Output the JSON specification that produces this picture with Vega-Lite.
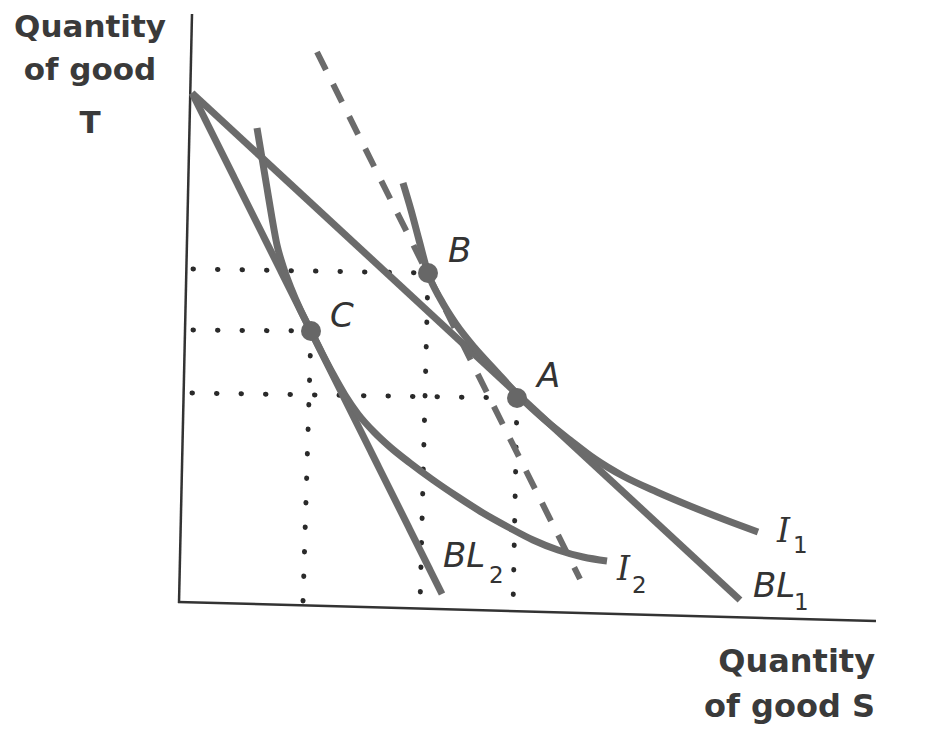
{
  "$schema": "https://vega.github.io/schema/vega-lite/v6.json",
  "width": 950,
  "height": 749,
  "autosize": {"type": "none"},
  "padding": 0,
  "background": "white",
  "config": {"view": {"stroke": null}},
  "datasets": {
    "lines": [
      {"id": "yaxis", "kind": "axis", "ord": 1, "S": 1.2, "T": 59.1},
      {"id": "yaxis", "kind": "axis", "ord": 2, "S": -0.1, "T": 0.2},
      {"id": "xaxis", "kind": "axis", "ord": 1, "S": -0.2, "T": 0.3},
      {"id": "xaxis", "kind": "axis", "ord": 2, "S": 69.6, "T": -1.6},

      {"id": "dB_h", "kind": "dotted", "ord": 1, "S": 1.3, "T": 33.6},
      {"id": "dB_h", "kind": "dotted", "ord": 2, "S": 24.8, "T": 33.2},
      {"id": "dC_h", "kind": "dotted", "ord": 1, "S": 1.3, "T": 27.5},
      {"id": "dC_h", "kind": "dotted", "ord": 2, "S": 13.1, "T": 27.4},
      {"id": "dA_h", "kind": "dotted", "ord": 1, "S": 1.2, "T": 21.2},
      {"id": "dA_h", "kind": "dotted", "ord": 2, "S": 33.7, "T": 20.7},
      {"id": "dC_v", "kind": "dotted", "ord": 1, "S": 13.1, "T": 27.4},
      {"id": "dC_v", "kind": "dotted", "ord": 2, "S": 12.3, "T": 0.3},
      {"id": "dB_v", "kind": "dotted", "ord": 1, "S": 24.8, "T": 33.2},
      {"id": "dB_v", "kind": "dotted", "ord": 2, "S": 24.0, "T": -0.1},
      {"id": "dA_v", "kind": "dotted", "ord": 1, "S": 33.7, "T": 20.7},
      {"id": "dA_v", "kind": "dotted", "ord": 2, "S": 33.3, "T": -0.5},

      {"id": "dash", "kind": "dashed", "ord": 1, "S": 13.7, "T": 55.3},
      {"id": "dash", "kind": "dashed", "ord": 2, "S": 40.0, "T": 2.6},

      {"id": "BL1", "kind": "straight", "ord": 1, "S": 1.2, "T": 51.2},
      {"id": "BL1", "kind": "straight", "ord": 2, "S": 56.0, "T": 0.5},
      {"id": "BL2", "kind": "straight", "ord": 1, "S": 1.2, "T": 51.2},
      {"id": "BL2", "kind": "straight", "ord": 2, "S": 26.2, "T": 1.1},

      {"id": "I1", "kind": "curve", "ord": 1, "S": 22.3, "T": 42.2},
      {"id": "I1", "kind": "curve", "ord": 2, "S": 23.1, "T": 39.5},
      {"id": "I1", "kind": "curve", "ord": 3, "S": 23.9, "T": 36.5},
      {"id": "I1", "kind": "curve", "ord": 4, "S": 24.8, "T": 33.2},
      {"id": "I1", "kind": "curve", "ord": 5, "S": 26.1, "T": 30.5},
      {"id": "I1", "kind": "curve", "ord": 6, "S": 27.6, "T": 28.1},
      {"id": "I1", "kind": "curve", "ord": 7, "S": 29.4, "T": 25.8},
      {"id": "I1", "kind": "curve", "ord": 8, "S": 31.5, "T": 23.5},
      {"id": "I1", "kind": "curve", "ord": 9, "S": 33.8, "T": 21.0},
      {"id": "I1", "kind": "curve", "ord": 10, "S": 36.5, "T": 18.5},
      {"id": "I1", "kind": "curve", "ord": 11, "S": 39.0, "T": 16.5},
      {"id": "I1", "kind": "curve", "ord": 12, "S": 41.5, "T": 14.6},
      {"id": "I1", "kind": "curve", "ord": 13, "S": 44.3, "T": 12.9},
      {"id": "I1", "kind": "curve", "ord": 14, "S": 47.7, "T": 11.3},
      {"id": "I1", "kind": "curve", "ord": 15, "S": 51.0, "T": 9.9},
      {"id": "I1", "kind": "curve", "ord": 16, "S": 54.3, "T": 8.6},
      {"id": "I1", "kind": "curve", "ord": 17, "S": 57.8, "T": 7.3},

      {"id": "I2", "kind": "curve", "ord": 1, "S": 7.7, "T": 47.7},
      {"id": "I2", "kind": "curve", "ord": 2, "S": 8.2, "T": 44.7},
      {"id": "I2", "kind": "curve", "ord": 3, "S": 8.7, "T": 41.7},
      {"id": "I2", "kind": "curve", "ord": 4, "S": 9.2, "T": 38.7},
      {"id": "I2", "kind": "curve", "ord": 5, "S": 9.7, "T": 36.0},
      {"id": "I2", "kind": "curve", "ord": 6, "S": 10.3, "T": 33.9},
      {"id": "I2", "kind": "curve", "ord": 7, "S": 11.1, "T": 31.7},
      {"id": "I2", "kind": "curve", "ord": 8, "S": 12.0, "T": 29.6},
      {"id": "I2", "kind": "curve", "ord": 9, "S": 13.1, "T": 27.4},
      {"id": "I2", "kind": "curve", "ord": 10, "S": 14.2, "T": 25.2},
      {"id": "I2", "kind": "curve", "ord": 11, "S": 15.3, "T": 23.1},
      {"id": "I2", "kind": "curve", "ord": 12, "S": 16.5, "T": 21.0},
      {"id": "I2", "kind": "curve", "ord": 13, "S": 17.8, "T": 19.1},
      {"id": "I2", "kind": "curve", "ord": 14, "S": 19.4, "T": 17.3},
      {"id": "I2", "kind": "curve", "ord": 15, "S": 21.0, "T": 15.8},
      {"id": "I2", "kind": "curve", "ord": 16, "S": 23.0, "T": 14.2},
      {"id": "I2", "kind": "curve", "ord": 17, "S": 25.3, "T": 12.5},
      {"id": "I2", "kind": "curve", "ord": 18, "S": 27.8, "T": 10.8},
      {"id": "I2", "kind": "curve", "ord": 19, "S": 30.3, "T": 9.2},
      {"id": "I2", "kind": "curve", "ord": 20, "S": 32.8, "T": 7.8},
      {"id": "I2", "kind": "curve", "ord": 21, "S": 35.3, "T": 6.5},
      {"id": "I2", "kind": "curve", "ord": 22, "S": 37.8, "T": 5.5},
      {"id": "I2", "kind": "curve", "ord": 23, "S": 40.3, "T": 4.8},
      {"id": "I2", "kind": "curve", "ord": 24, "S": 42.7, "T": 4.4}
    ],
    "points": [
      {"name": "A", "S": 33.7, "T": 20.7},
      {"name": "B", "S": 24.8, "T": 33.2},
      {"name": "C", "S": 13.1, "T": 27.4}
    ],
    "labels": [
      {"text": "B", "style": "sans", "S": 26.8, "T": 34.3},
      {"text": "C", "style": "sans", "S": 15.0, "T": 27.8},
      {"text": "A", "style": "sans", "S": 35.7, "T": 21.8},
      {"text": "BL", "style": "sans", "S": 57.3, "T": 0.8},
      {"text": "BL", "style": "sans", "S": 26.3, "T": 3.8},
      {"text": "I", "style": "serif", "S": 59.7, "T": 6.3},
      {"text": "I", "style": "serif", "S": 43.7, "T": 2.5},
      {"text": "1", "style": "sub", "S": 61.3, "T": 5.2},
      {"text": "1", "style": "sub", "S": 61.4, "T": -0.5},
      {"text": "2", "style": "sub", "S": 45.2, "T": 1.2},
      {"text": "2", "style": "sub", "S": 30.9, "T": 2.2},
      {"text": "Quantity", "style": "xtitle", "S": 69.5, "T": -6.7},
      {"text": "of good S", "style": "xtitle", "S": 69.5, "T": -11.2},
      {"text": "Quantity", "style": "ytitle", "S": -9.0, "T": 56.8},
      {"text": "of good", "style": "ytitle", "S": -9.0, "T": 52.5},
      {"text": "T", "style": "ytitle", "S": -9.0, "T": 47.2}
    ]
  },
  "encoding": {
    "x": {"field": "S", "type": "quantitative", "scale": {"domain": [-18, 77], "nice": false, "zero": false}, "axis": null},
    "y": {"field": "T", "type": "quantitative", "scale": {"domain": [-14.4, 60.5], "nice": false, "zero": false}, "axis": null}
  },
  "layer": [
    {
      "data": {"name": "lines"},
      "transform": [{"filter": "datum.kind === 'dotted'"}],
      "mark": {"type": "line", "strokeDash": [0.5, 24], "strokeCap": "round", "strokeWidth": 5, "color": "#2a2a2a"},
      "encoding": {"detail": {"field": "id"}, "order": {"field": "ord"}}
    },
    {
      "data": {"name": "lines"},
      "transform": [{"filter": "datum.kind === 'axis'"}],
      "mark": {"type": "line", "strokeWidth": 2.5, "color": "#333333"},
      "encoding": {"detail": {"field": "id"}, "order": {"field": "ord"}}
    },
    {
      "data": {"name": "lines"},
      "transform": [{"filter": "datum.kind === 'dashed'"}],
      "mark": {"type": "line", "strokeDash": [20, 16], "strokeWidth": 6, "color": "#6b6b6b"},
      "encoding": {"detail": {"field": "id"}, "order": {"field": "ord"}}
    },
    {
      "data": {"name": "lines"},
      "transform": [{"filter": "datum.kind === 'straight'"}],
      "mark": {"type": "line", "strokeWidth": 7, "color": "#6b6b6b", "strokeCap": "butt"},
      "encoding": {"detail": {"field": "id"}, "order": {"field": "ord"}}
    },
    {
      "data": {"name": "lines"},
      "transform": [{"filter": "datum.kind === 'curve'"}],
      "mark": {"type": "line", "strokeWidth": 7, "color": "#6b6b6b", "interpolate": "monotone", "strokeCap": "butt"},
      "encoding": {"detail": {"field": "id"}, "order": {"field": "ord"}}
    },
    {
      "data": {"name": "points"},
      "mark": {"type": "circle", "size": 400, "color": "#676767", "opacity": 1},
      "encoding": {}
    },
    {
      "data": {"name": "labels"},
      "transform": [{"filter": "datum.style === 'sans'"}],
      "mark": {"type": "text", "font": "DejaVu Sans", "fontStyle": "italic", "fontSize": 34, "align": "left", "baseline": "alphabetic", "color": "#333333"},
      "encoding": {"text": {"field": "text"}}
    },
    {
      "data": {"name": "labels"},
      "transform": [{"filter": "datum.style === 'serif'"}],
      "mark": {"type": "text", "font": "DejaVu Serif", "fontStyle": "italic", "fontSize": 33, "align": "left", "baseline": "alphabetic", "color": "#333333"},
      "encoding": {"text": {"field": "text"}}
    },
    {
      "data": {"name": "labels"},
      "transform": [{"filter": "datum.style === 'sub'"}],
      "mark": {"type": "text", "font": "DejaVu Sans", "fontSize": 23, "align": "left", "baseline": "alphabetic", "color": "#333333"},
      "encoding": {"text": {"field": "text"}}
    },
    {
      "data": {"name": "labels"},
      "transform": [{"filter": "datum.style === 'xtitle'"}],
      "mark": {"type": "text", "font": "DejaVu Sans", "fontWeight": "bold", "fontSize": 32, "align": "right", "baseline": "alphabetic", "color": "#3a3a3a"},
      "encoding": {"text": {"field": "text"}}
    },
    {
      "data": {"name": "labels"},
      "transform": [{"filter": "datum.style === 'ytitle'"}],
      "mark": {"type": "text", "font": "DejaVu Sans", "fontWeight": "bold", "fontSize": 31, "align": "center", "baseline": "alphabetic", "color": "#3a3a3a"},
      "encoding": {"text": {"field": "text"}}
    }
  ]
}
